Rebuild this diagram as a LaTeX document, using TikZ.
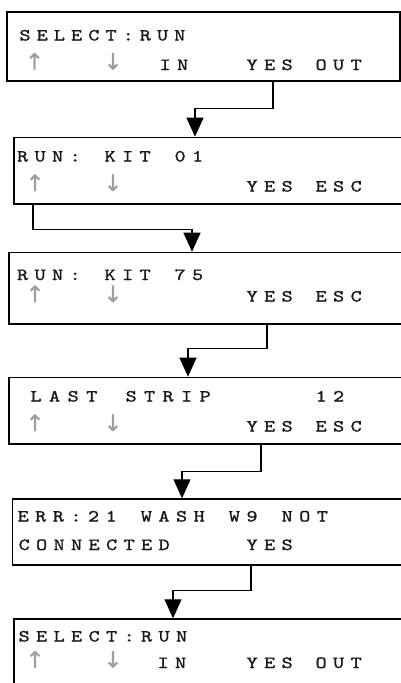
\documentclass[tikz,border=0pt]{standalone}
\usepackage{fontspec}
\newfontfamily\arrowfont{DejaVu Sans}[FakeBold=1]
\newfontfamily\lcdfont{lmmono10-regular.otf}[FakeStretch=1.25,FakeBold=1.3]
\usetikzlibrary{arrows.meta,calc}

% fixed character cells of the display
\newlength\lcdpitch
\setlength\lcdpitch{17.5pt}
\def\lcd#1{\lcdloop#1\relax}
\def\lcdloop#1{\ifx#1\relax\else\makebox[\lcdpitch]{#1}\expandafter\lcdloop\fi}

\tikzset{
  screen/.style={draw=black, line width=1.5pt, rectangle, inner sep=0pt, anchor=north west},
  lcdtext/.style={anchor=base west, inner sep=0pt, text=black!90,
    font=\lcdfont\fontsize{17}{17}\selectfont},
  keyarrow/.style={anchor=base, inner sep=0pt, text=black!38,
    font=\arrowfont\fontsize{22.5}{22.5}\selectfont},
  flow/.style={draw=black, line width=1.3pt, -{Triangle[width=17pt,length=19pt]}}
}

\begin{document}
\begin{tikzpicture}[x=1pt,y=-1pt]
\clip (0,0) rectangle (401,683);

% display screens
\node[screen, minimum width=393pt, minimum height=69pt]   (s1) at (6,11) {};
\node[screen, minimum width=420pt, minimum height=66.6pt] (s2) at (13.3,136.7) {};
\node[screen, minimum width=420pt, minimum height=71.6pt] (s3) at (8.3,251.7) {};
\node[screen, minimum width=420pt, minimum height=66.6pt] (s4) at (8.3,376.7) {};
\node[screen, minimum width=420pt, minimum height=66pt]   (s5) at (11.7,498.3) {};
\node[screen, minimum width=420pt, minimum height=90pt]   (s6) at (13.3,618.3) {};

% screen 1
\node[lcdtext] (t1a) at (16.2,40.5) {\setlength\lcdpitch{17.2pt}\lcd{SELECT:RUN}};
\node[keyarrow] (u1) at (34.5,69.5) {↑};
\node[keyarrow] (d1) at (113,69.5) {↓};
\node[lcdtext] (t1b) at (156.2,70) {\lcd{IN}};
\node[lcdtext] (t1c) at (243.2,70) {\lcd{YES}};
\node[lcdtext] (t1d) at (312.2,70) {\lcd{OUT}};

% screen 2
\node[lcdtext] (t2a) at (13.7,161.5) {\lcd{RUN:~KIT~01}};
\node[keyarrow] (u2) at (35,191) {↑};
\node[keyarrow] (d2) at (113,191) {↓};
\node[lcdtext] (t2b) at (243.2,191.5) {\lcd{YES}};
\node[lcdtext] (t2c) at (312.2,191.5) {\lcd{ESC}};

% screen 3
\node[lcdtext] (t3a) at (13.7,280) {\lcd{RUN:~KIT~75}};
\node[keyarrow] (u3) at (35,302) {↑};
\node[keyarrow] (d3) at (113,302) {↓};
\node[lcdtext] (t3b) at (243.2,301.5) {\lcd{YES}};
\node[lcdtext] (t3c) at (312.2,301.5) {\lcd{ESC}};

% screen 4
\node[lcdtext] (t4a) at (26.5,401.5) {\setlength\lcdpitch{18.6pt}\lcd{LAST}};
\node[lcdtext] (t4b) at (121.7,401.5) {\setlength\lcdpitch{18.5pt}\lcd{STRIP}};
\node[lcdtext] (t4c) at (312.2,401.5) {\lcd{12}};
\node[keyarrow] (u4) at (35,431) {↑};
\node[keyarrow] (d4) at (113,431) {↓};
\node[lcdtext] (t4d) at (243.2,431.5) {\lcd{YES}};
\node[lcdtext] (t4e) at (312.2,431.5) {\lcd{ESC}};

% screen 5
\node[lcdtext] (t5a) at (14.2,521.5) {\setlength\lcdpitch{17.6pt}\lcd{ERR:21~WASH~W9~NOT}};
\node[lcdtext] (t5b) at (15.2,550) {\lcd{CONNECTED}};
\node[lcdtext] (t5c) at (243.2,550) {\lcd{YES}};

% screen 6
\node[lcdtext] (t6a) at (15.2,641.5) {\lcd{SELECT:RUN}};
\node[keyarrow] (u6) at (35,667.5) {↑};
\node[keyarrow] (d6) at (113,667.5) {↓};
\node[lcdtext] (t6b) at (154.2,668) {\lcd{IN}};
\node[lcdtext] (t6c) at (243.2,668) {\lcd{YES}};
\node[lcdtext] (t6d) at (312.2,668) {\lcd{OUT}};

% transitions between screens
\draw[flow] ($(s1.south west)+(267,0)$) -- ++(0,27) -| ($(s2.north west)+(181.7,0)$);
\draw[flow] ($(s2.south west)+(19.7,0)$) -- ++(0,25) -| ($(s3.north west)+(183.7,0)$);
\draw[flow] ($(s3.south west)+(258.7,0)$) -- ++(0,24) -| ($(s4.north west)+(179.7,0)$);
\draw[flow] ($(s4.south west)+(252.7,0)$) -- ++(0,26.7) -| ($(s5.north west)+(170.3,0)$);
\draw[flow] ($(s5.south west)+(239.3,0)$) -- ++(0,24.7) -| ($(s6.north west)+(159.7,0)$);
\end{tikzpicture}
\end{document}
